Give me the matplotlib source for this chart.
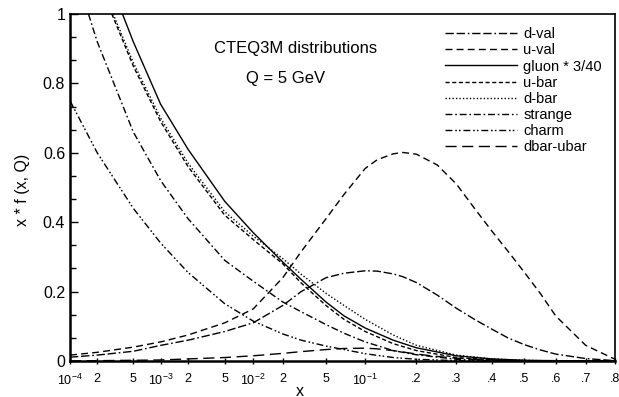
import numpy as np
import matplotlib
matplotlib.use("Agg")
import matplotlib.pyplot as plt
from matplotlib.ticker import FixedLocator, NullLocator

plt.rcParams["font.family"] = ["Liberation Sans", "DejaVu Sans"]
plt.rcParams["mathtext.fontset"] = "custom"
plt.rcParams["mathtext.rm"] = "Liberation Sans"
plt.rcParams["mathtext.it"] = "Liberation Sans"

# common x grid for the valence and dbar-ubar curves
x_grid = [1e-4, 2e-4, 5e-4, 1e-3, 2e-3, 5e-3, 1e-2, 2e-2, 3e-2, 5e-2, 7e-2,
          0.1, 0.12, 0.15, 0.17, 0.2, 0.25, 0.3, 0.35, 0.4, 0.45, 0.5, 0.55,
          0.6, 0.7, 0.8]
d_val = [0.011, 0.017, 0.028, 0.045, 0.06, 0.085, 0.11, 0.16, 0.20, 0.24, 0.253,
         0.26, 0.259, 0.251, 0.243, 0.226, 0.19, 0.152, 0.12, 0.092, 0.066, 0.047, 0.032,
         0.02, 0.007, 0.001]
u_val = [0.017, 0.025, 0.04, 0.055, 0.075, 0.11, 0.15, 0.24, 0.315, 0.41, 0.48,
         0.555, 0.58, 0.597, 0.601, 0.596, 0.565, 0.51, 0.44, 0.375, 0.315, 0.255, 0.195,
         0.13, 0.045, 0.005]
dbar_ubar = [0.0, 0.001, 0.002, 0.003, 0.006, 0.01, 0.015, 0.022, 0.027, 0.033, 0.036,
             0.037, 0.035, 0.03, 0.026, 0.02, 0.013, 0.008, 0.005, 0.003, 0.002, 0.001, 0.0,
             0.0, 0.0, 0.0]

# sea quarks and gluon start where they leave the top of the frame
gluon_x = [3.8e-4, 5e-4, 1e-3, 2e-3, 5e-3, 1e-2, 2e-2, 3e-2, 5e-2, 7e-2,
           0.1, 0.15, 0.2, 0.3, 0.4, 0.5, 0.6, 0.8]
gluon = [1.0, 0.92, 0.74, 0.61, 0.46, 0.37, 0.285, 0.235, 0.17, 0.13,
         0.095, 0.06, 0.038, 0.015, 0.006, 0.002, 0.001, 0.0]
ubar_x = [2.9e-4, 5e-4, 1e-3, 2e-3, 5e-3, 1e-2, 2e-2, 3e-2, 5e-2, 7e-2,
          0.1, 0.15, 0.2, 0.3, 0.4, 0.5, 0.6, 0.8]
u_bar = [1.0, 0.85, 0.69, 0.56, 0.42, 0.35, 0.28, 0.225, 0.16, 0.12,
         0.085, 0.05, 0.03, 0.01, 0.003, 0.001, 0.0, 0.0]
dbar_x = [3.0e-4, 5e-4, 1e-3, 2e-3, 5e-3, 1e-2, 2e-2, 3e-2, 5e-2, 7e-2,
          0.1, 0.15, 0.2, 0.3, 0.4, 0.5, 0.6, 0.8]
d_bar = [1.0, 0.86, 0.70, 0.57, 0.43, 0.36, 0.295, 0.25, 0.195, 0.16,
         0.12, 0.075, 0.045, 0.017, 0.006, 0.002, 0.0, 0.0]
strange_x = [1.6e-4, 2e-4, 5e-4, 1e-3, 2e-3, 5e-3, 1e-2, 2e-2, 3e-2, 5e-2, 7e-2,
             0.1, 0.15, 0.2, 0.3, 0.4, 0.6, 0.8]
strange = [1.0, 0.92, 0.66, 0.52, 0.41, 0.29, 0.23, 0.17, 0.142, 0.105, 0.08,
           0.055, 0.03, 0.018, 0.005, 0.001, 0.0, 0.0]
charm_x = [1e-4, 2e-4, 5e-4, 1e-3, 2e-3, 5e-3, 1e-2, 2e-2, 3e-2, 5e-2, 7e-2,
           0.1, 0.15, 0.2, 0.3, 0.4, 0.6, 0.8]
charm = [0.75, 0.60, 0.44, 0.34, 0.255, 0.165, 0.115, 0.078, 0.06, 0.043, 0.033,
         0.021, 0.01, 0.005, 0.001, 0.0, 0.0, 0.0]

x_ticks = [1e-4, 2e-4, 5e-4, 1e-3, 2e-3, 5e-3, 1e-2, 2e-2, 5e-2, 1e-1,
           0.2, 0.3, 0.4, 0.5, 0.6, 0.7, 0.8]
x_ticklabels = [r"$10^{-4}$", "2", "5", r"$10^{-3}$", "2", "5", r"$10^{-2}$", "2", "5",
                r"$10^{-1}$", ".2", ".3", ".4", ".5", ".6", ".7", ".8"]

# axis: log at small x, stretched towards large x
C = 2.657


def fwd(x):
    x = np.clip(np.asarray(x, dtype=float), 1e-12, None)
    return np.log10(x) + C * x


_grid = np.logspace(-12, 0.5, 40000)
_ugrid = fwd(_grid)


def inv(u):
    return np.interp(u, _ugrid, _grid)


fig = plt.figure(figsize=(6.19, 3.97), dpi=100)
ax = fig.add_axes([70 / 619, 1 - 361 / 397, 545 / 619, 347 / 397])
ax.set_xscale("function", functions=(fwd, inv))

lw = 1.0
ax.plot(x_grid, d_val, color="k", lw=lw, ls=(0, (6, 2, 6, 2, 1.2, 2)), label="d-val")
ax.plot(x_grid, u_val, color="k", lw=lw, ls=(0, (5, 3)), label="u-val")
ax.plot(gluon_x, gluon, color="k", lw=lw, ls="-", label="gluon * 3/40")
ax.plot(ubar_x, u_bar, color="k", lw=lw, ls=(0, (3, 1.8)), label="u-bar")
ax.plot(dbar_x, d_bar, color="k", lw=lw, ls=(0, (1, 1.5)), label="d-bar")
ax.plot(strange_x, strange, color="k", lw=lw, ls=(0, (5, 2, 1.2, 2)), label="strange")
ax.plot(charm_x, charm, color="k", lw=lw, ls=(0, (5, 2, 1.2, 1.5, 1.2, 2)), label="charm")
ax.plot(x_grid, dbar_ubar, color="k", lw=lw, ls=(0, (8, 4)), label="dbar-ubar")

ax.set_xlim(1e-4, 0.8)
ax.set_ylim(0, 1)

ax.xaxis.set_major_locator(FixedLocator(x_ticks))
ax.xaxis.set_minor_locator(NullLocator())
ax.set_xticklabels(x_ticklabels)
ax.set_yticks([0, 0.2, 0.4, 0.6, 0.8, 1.0])
ax.set_yticklabels(["0", "0.2", "0.4", "0.6", "0.8", "1"])
ax.set_yticks(np.arange(0, 1.0001, 0.2 / 3), minor=True)
ax.tick_params(axis="x", direction="inout", length=5, width=1, labelsize=9, pad=6)
ax.tick_params(axis="y", which="major", direction="in", length=6, width=1, labelsize=11.5)
ax.tick_params(axis="y", which="minor", direction="in", length=4, width=1)

for side in ["left", "bottom"]:
    ax.spines[side].set_linewidth(1.8)
for side in ["top", "right"]:
    ax.spines[side].set_linewidth(1.2)

fig.text(22 / 619, 1 - 190 / 397, "x * f (x, Q)", rotation=90, ha="center", va="center", fontsize=11.5)
fig.text(300 / 619, 1 - 391 / 397, "x", ha="center", va="center", fontsize=11.5)

fig.text(296 / 619, 1 - 48 / 397, "CTEQ3M distributions", ha="center", va="center", fontsize=12)
fig.text(286 / 619, 1 - 78 / 397, "Q = 5 GeV", ha="center", va="center", fontsize=12)

ax.legend(loc="upper right", bbox_to_anchor=(1.0, 1.0), frameon=False, fontsize=10.5,
          handlelength=5.0, handletextpad=0.4, labelspacing=0.15, borderaxespad=0.5)

fig.savefig("out.png", dpi=100)
